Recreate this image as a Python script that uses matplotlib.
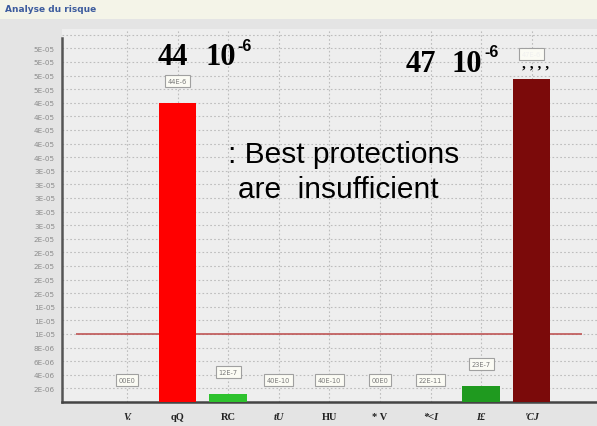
import matplotlib
matplotlib.use("Agg")
import matplotlib.pyplot as plt
from matplotlib.patches import Rectangle
from matplotlib.ticker import MultipleLocator, FuncFormatter

# data
categories = ["V.", "qQ", "RC", "tU", "HU", "* V", "*<I", "I£", "'CJ"]
italic_cat = [True, False, False, True, False, False, True, True, True]
values = [0.0, 44e-6, 1.2e-6, 4.0e-9, 4.0e-9, 0.0, 2.2e-10, 2.3e-6, 47.5e-6]
value_labels = ["00E0", "44E-6", "12E-7", "40E-10", "40E-10", "00E0", "22E-11", "23E-7", "47E-6"]
bar_colors = ["#ff1a1a", "#ff0000", "#2ec22e", "#2ec22e", "#2ec22e", "#2ec22e", "#2ec22e", "#1f9a1f", "#7b0a0a"]
threshold = 1e-5

fig = plt.figure(figsize=(5.97, 4.27), dpi=100)
fig.patch.set_facecolor("#e4e4e4")

# bandeau du haut
fig.patches.append(Rectangle((0, 1 - 20 / 427), 1, 20 / 427, transform=fig.transFigure,
                             facecolor="#f4f4e8", edgecolor="none", zorder=0))
fig.text(5 / 597, 1 - 9 / 427, "Analyse du risque", color="#3d5c9e", fontsize=6.5,
         fontweight="bold", va="center", ha="left")

ax = fig.add_axes([62 / 597, 24 / 427, 535 / 597, 373 / 427])
ax.set_facecolor("#eeeeee")

x = list(range(len(categories)))
ax.bar(x, values, width=0.74, color=bar_colors, zorder=3)

ax.hlines(threshold, -1, 9, color="#bf5555", linewidth=1.2, zorder=2)

ax.set_xlim(-1.285, 9.29)
ax.set_ylim(0, 54.85e-6)
ax.yaxis.set_major_locator(MultipleLocator(2e-6))
ax.yaxis.set_major_formatter(FuncFormatter(lambda v, p: "" if v <= 0 or v > 53e-6 else "%.0E" % v))
ax.set_xticks(x)
ax.set_xticklabels(categories)
for lab, it in zip(ax.get_xticklabels(), italic_cat):
    lab.set_fontfamily("Liberation Serif")
    lab.set_fontweight("bold")
    lab.set_fontsize(7.5)
    if it:
        lab.set_fontstyle("italic")
ax.tick_params(axis="x", length=0, pad=7, colors="#222222")
ax.tick_params(axis="y", length=0, pad=5, labelsize=5.2, labelcolor="#8c8c8c")

ax.grid(True, color="#bdbdbd", linestyle=(0, (1.5, 2)), linewidth=0.8, zorder=1)
ax.set_axisbelow(True)

for s in ["top", "right"]:
    ax.spines[s].set_visible(False)
ax.spines["left"].set_color("#555555")
ax.spines["left"].set_linewidth(1.8)
ax.spines["left"].set_bounds(0, 53.5e-6)
ax.spines["bottom"].set_color("#444444")
ax.spines["bottom"].set_linewidth(1.8)

# boites de valeurs
for i, (v, t) in enumerate(zip(values, value_labels)):
    off = 18 if i == 8 else 16
    tc = "#f0f0f0" if i == 8 else "#7a7a7a"
    ax.annotate(t, (i, v), xytext=(0, off), textcoords="offset points",
                ha="center", va="center", fontsize=4.8, color=tc, zorder=5,
                bbox=dict(boxstyle="square,pad=0.45", facecolor="#fbfbf4",
                          edgecolor="#a0a0a0", linewidth=0.8))

# annotations en surimpression
big = dict(fontsize=22, fontweight="bold", family="Liberation Serif", va="baseline", ha="left")
sup = dict(fontsize=11.5, fontweight="bold", family="Liberation Sans", va="baseline", ha="left")
fig.text(158 / 597, 1 - 65 / 427, "44", **big)
fig.text(205 / 597, 1 - 65 / 427, "10", **big)
fig.text(237 / 597, 1 - 51 / 427, "-6", **sup)
fig.text(406 / 597, 1 - 72 / 427, "47", **big)
fig.text(452 / 597, 1 - 72 / 427, "10", **big)
fig.text(484 / 597, 1 - 57 / 427, "-6", **sup)
fig.text(522 / 597, 1 - 68 / 427, ", , , ,", fontsize=11, fontweight="bold",
         family="Liberation Serif", va="baseline", ha="left")
fig.text(228 / 597, 1 - 163 / 427, ": Best protections", fontsize=21.5,
         family="Liberation Sans", va="baseline", ha="left")
fig.text(238 / 597, 1 - 198 / 427, "are  insufficient", fontsize=21.5,
         family="Liberation Sans", va="baseline", ha="left")

fig.savefig("out.png", dpi=100, facecolor=fig.get_facecolor())
